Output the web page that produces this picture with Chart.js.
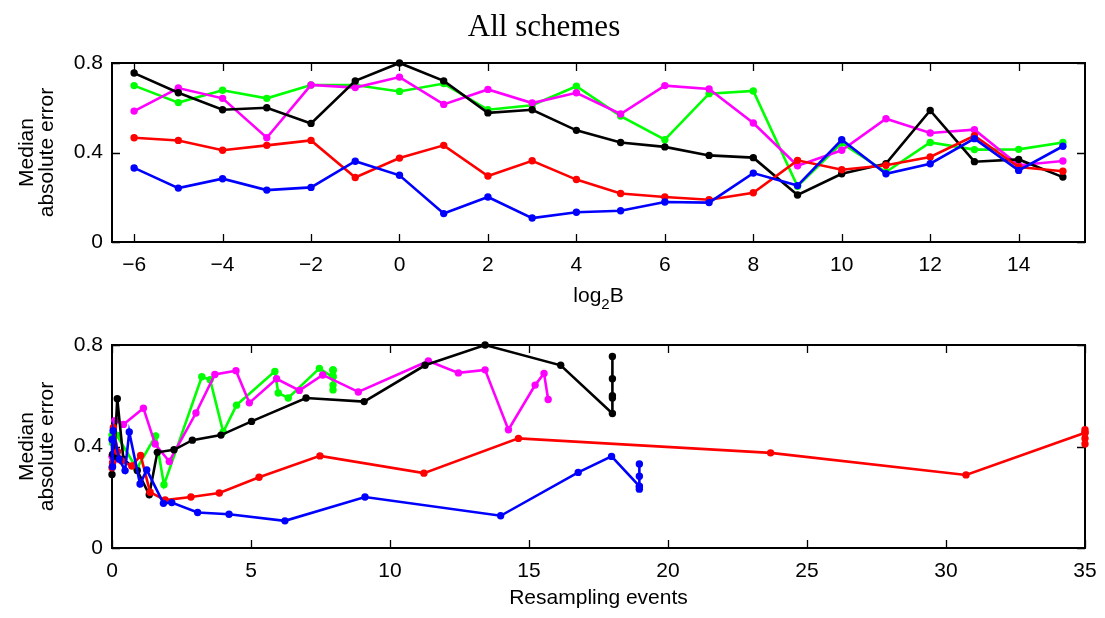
<!DOCTYPE html>
<html>
<head>
<meta charset="utf-8">
<script src="https://cdn.jsdelivr.net/npm/chart.js@4.4.1/dist/chart.umd.min.js"></script>
<style>
  html, body { margin: 0; padding: 0; background: #fff; }
  #wrap { position: relative; width: 1105px; height: 618px; }
  #topChart { position: absolute; left: 0; top: 0; }
  #bottomChart { position: absolute; left: 0; top: 310px; }
</style>
</head>
<body>
<div id="wrap">
  <canvas id="topChart" width="1105" height="310"></canvas>
  <canvas id="bottomChart" width="1105" height="308"></canvas>
</div>
<script>
// bandwidth exponents (x of the upper panel)
var logB = [-6, -5, -4, -3, -2, -1, 0, 1, 2, 3, 4, 5, 6, 7, 8, 9, 10, 11, 12, 13, 14, 15];

// median absolute error per scheme, one value per log2 B
var errGreen   = [0.699, 0.623, 0.678, 0.642, 0.702, 0.702, 0.673, 0.708, 0.591, 0.611, 0.696, 0.563, 0.457, 0.663, 0.675, 0.249, 0.442, 0.313, 0.445, 0.413, 0.414, 0.445];
var errMagenta = [0.585, 0.688, 0.642, 0.466, 0.702, 0.690, 0.737, 0.615, 0.682, 0.621, 0.667, 0.572, 0.699, 0.684, 0.532, 0.341, 0.410, 0.551, 0.487, 0.502, 0.343, 0.362];
var errBlack   = [0.755, 0.667, 0.591, 0.600, 0.530, 0.720, 0.800, 0.720, 0.577, 0.591, 0.499, 0.445, 0.425, 0.387, 0.377, 0.210, 0.305, 0.350, 0.588, 0.359, 0.369, 0.290];
var errRed     = [0.466, 0.454, 0.410, 0.432, 0.454, 0.288, 0.375, 0.432, 0.295, 0.363, 0.279, 0.217, 0.201, 0.189, 0.220, 0.365, 0.323, 0.343, 0.380, 0.475, 0.335, 0.316];
var errBlue    = [0.331, 0.241, 0.283, 0.232, 0.244, 0.361, 0.298, 0.127, 0.201, 0.107, 0.133, 0.140, 0.179, 0.176, 0.308, 0.252, 0.457, 0.305, 0.350, 0.462, 0.320, 0.428];

// mean number of resampling events per scheme, same order as logB
var eventsGreen   = [7.95, 7.95, 7.95, 7.95, 7.95, 7.95, 7.95, 7.46, 6.34, 5.98, 5.86, 4.48, 4.0, 3.53, 3.23, 1.87, 1.57, 0.89, 0.17, 0.06, 0.02, 0];
var eventsMagenta = [15.69, 15.54, 15.22, 14.26, 13.42, 12.46, 11.38, 8.86, 7.58, 6.74, 5.92, 4.94, 4.46, 3.70, 3.02, 2.06, 1.55, 1.13, 0.41, 0.1, 0.04, 0];
var eventsBlack   = [18, 18, 18, 18, 18, 16.14, 13.42, 11.26, 9.07, 6.98, 5.02, 3.92, 2.89, 2.23, 1.63, 1.34, 0.91, 0.41, 0.19, 0.08, 0.02, 0];
var eventsRed     = [35, 35, 35, 35, 35, 30.72, 23.69, 14.62, 11.22, 7.48, 5.29, 3.86, 2.84, 1.91, 1.37, 1.03, 0.71, 0.35, 0.2, 0.05, 0.02, 0];
var eventsBlue    = [18.97, 18.97, 18.97, 18.97, 18.97, 17.97, 16.77, 13.98, 9.10, 6.22, 4.21, 3.08, 2.15, 1.85, 1.25, 1.01, 0.62, 0.47, 0.26, 0.04, 0.02, 0];

// tick positions
var topXTicks = [-6, -4, -2, 0, 2, 4, 6, 8, 10, 12, 14];
var bottomXTicks = [0, 5, 10, 15, 20, 25, 30, 35];
var yTicks = [0, 0.4, 0.8];

var SANS = '"Liberation Sans", Arial, sans-serif';
var FS = 21;

function pairs(xs, ys) {
  return xs.map(function(x, i) { return { x: x, y: ys[i] }; });
}

function series(color, xs, ys) {
  return {
    data: pairs(xs, ys),
    borderColor: color,
    backgroundColor: color,
    borderWidth: 2.6,
    pointRadius: 3.7,
    pointHoverRadius: 3.7,
    pointBorderWidth: 0,
    tension: 0,
    clip: false
  };
}

// first dataset ends up on top
function datasets(xsBlue, xsRed, xsBlack, xsMagenta, xsGreen) {
  return [
    series('#0000ff', xsBlue, errBlue),
    series('#ff0000', xsRed, errRed),
    series('#000000', xsBlack, errBlack),
    series('#ff00ff', xsMagenta, errMagenta),
    series('#00ff00', xsGreen, errGreen)
  ];
}

function minusSign(v) {
  return String(v).replace('-', '\u2212');
}

// frame around the plot with inward tick marks
var boxPlugin = {
  id: 'box',
  beforeDatasetsDraw: function(chart) {
    var ctx = chart.ctx, a = chart.chartArea;
    var xs = chart.scales.x, ys = chart.scales.y;
    ctx.save();
    ctx.strokeStyle = '#000';
    ctx.lineWidth = 1.3;
    ctx.beginPath();
    xs.ticks.forEach(function(t) {
      var p = Math.round(xs.getPixelForValue(t.value)) + 0.5;
      ctx.moveTo(p, a.bottom); ctx.lineTo(p, a.bottom - 8);
      ctx.moveTo(p, a.top); ctx.lineTo(p, a.top + 8);
    });
    ys.ticks.forEach(function(t) {
      var p = Math.round(ys.getPixelForValue(t.value)) + 0.5;
      ctx.moveTo(a.left, p); ctx.lineTo(a.left + 8, p);
      ctx.moveTo(a.right, p); ctx.lineTo(a.right - 8, p);
    });
    ctx.stroke();
    ctx.lineWidth = 2;
    ctx.strokeRect(a.left, a.top, a.right - a.left, a.bottom - a.top);
    ctx.restore();
  }
};

// figure title and the log2 B axis label with its subscript
var topLabels = {
  id: 'topLabels',
  afterDraw: function(chart) {
    var ctx = chart.ctx, a = chart.chartArea;
    ctx.save();
    ctx.fillStyle = '#000';
    ctx.textBaseline = 'alphabetic';
    ctx.textAlign = 'center';
    ctx.font = '31px "Liberation Serif", "Times New Roman", serif';
    ctx.fillText('All schemes', 544, 36);

    ctx.textAlign = 'left';
    ctx.font = FS + 'px ' + SANS;
    var w1 = ctx.measureText('log').width;
    var w3 = ctx.measureText('B').width;
    ctx.font = '15px ' + SANS;
    var w2 = ctx.measureText('2').width;
    var x0 = (a.left + a.right) / 2 - (w1 + w2 + w3) / 2;
    var base = 302;
    ctx.font = FS + 'px ' + SANS;
    ctx.fillText('log', x0, base);
    ctx.font = '15px ' + SANS;
    ctx.fillText('2', x0 + w1, base + 7);
    ctx.font = FS + 'px ' + SANS;
    ctx.fillText('B', x0 + w1 + w2, base);
    ctx.restore();
  }
};

function yScale(width) {
  return {
    type: 'linear',
    min: 0,
    max: 0.8,
    afterFit: function(s) { s.width = width; },
    afterBuildTicks: function(s) { s.ticks = yTicks.map(function(v) { return { value: v }; }); },
    grid: { display: false, drawTicks: false },
    border: { display: false },
    ticks: {
      color: '#000',
      padding: 9,
      font: { family: SANS, size: FS },
      callback: function(v) { return String(Math.round(v * 10) / 10); }
    },
    title: {
      display: true,
      text: ['Median', 'absolute error'],
      color: '#000',
      font: { family: SANS, size: FS, lineHeight: 0.95 },
      padding: { top: 17, bottom: 0 }
    }
  };
}

function xScale(min, max, tickList, height, titleText) {
  return {
    type: 'linear',
    min: min,
    max: max,
    afterFit: function(s) {
      s.height = height;
      s.paddingLeft = 0;
      s.paddingRight = 0;
    },
    afterBuildTicks: function(s) { s.ticks = tickList.map(function(v) { return { value: v }; }); },
    grid: { display: false, drawTicks: false },
    border: { display: false },
    ticks: {
      color: '#000',
      padding: 11,
      autoSkip: false,
      maxRotation: 0,
      font: { family: SANS, size: FS },
      callback: minusSign
    },
    title: {
      display: !!titleText,
      text: titleText || '',
      color: '#000',
      font: { family: SANS, size: FS },
      padding: { top: 0, bottom: 7 }
    }
  };
}

function baseOptions(padTop, scales) {
  return {
    responsive: false,
    animation: false,
    events: [],
    layout: { padding: { top: padTop, right: 20, left: 0, bottom: 0 } },
    plugins: { legend: { display: false }, tooltip: { enabled: false } },
    scales: scales
  };
}

new Chart(document.getElementById('topChart').getContext('2d'), {
  type: 'line',
  data: { datasets: datasets(logB, logB, logB, logB, logB) },
  options: baseOptions(63, { x: xScale(-6.5, 15.5, topXTicks, 68, ''), y: yScale(112) }),
  plugins: [boxPlugin, topLabels]
});

new Chart(document.getElementById('bottomChart').getContext('2d'), {
  type: 'line',
  data: { datasets: datasets(eventsBlue, eventsRed, eventsBlack, eventsMagenta, eventsGreen) },
  options: baseOptions(35, { x: xScale(0, 35, bottomXTicks, 70, 'Resampling events'), y: yScale(112) }),
  plugins: [boxPlugin]
});
</script>
</body>
</html>
